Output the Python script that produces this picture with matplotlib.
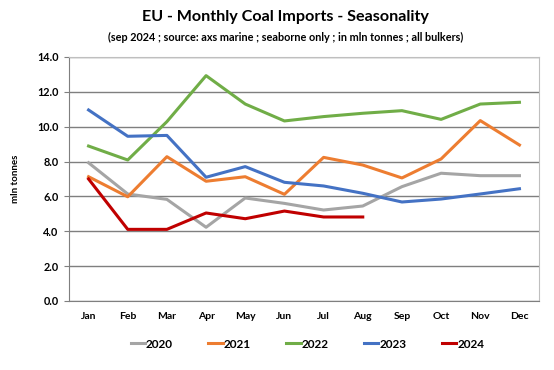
import matplotlib.pyplot as plt

months = ['Jan', 'Feb', 'Mar', 'Apr', 'May', 'Jun', 'Jul', 'Aug', 'Sep', 'Oct', 'Nov', 'Dec']
y2020 = [7.93, 6.14, 5.83, 4.23, 5.91, 5.60, 5.22, 5.45, 6.56, 7.33, 7.19, 7.19]
y2021 = [7.13, 5.98, 8.28, 6.87, 7.13, 6.12, 8.24, 7.80, 7.06, 8.15, 10.35, 8.95]
y2022 = [8.89, 8.09, 10.29, 12.93, 11.30, 10.33, 10.58, 10.77, 10.92, 10.42, 11.30, 11.40]
y2023 = [10.96, 9.45, 9.50, 7.10, 7.71, 6.81, 6.60, 6.18, 5.68, 5.85, 6.14, 6.44]
y2024 = [7.00, 4.11, 4.11, 5.05, 4.72, 5.16, 4.82, 4.82]

plt.rcParams['font.family'] = ['Lato', 'DejaVu Sans']
plt.rcParams['font.weight'] = 'bold'

fig = plt.figure(figsize=(5.54, 3.70), dpi=100)
ax = fig.add_axes([0.1245, 0.1865, 0.8485, 0.6595])

x = range(len(months))
ax.plot(x, y2020, color='#a5a5a5', lw=2.2, label='2020')
ax.plot(x, y2021, color='#ed7d31', lw=2.2, label='2021')
ax.plot(x, y2022, color='#70ad47', lw=2.2, label='2022')
ax.plot(x, y2023, color='#4472c4', lw=2.2, label='2023')
ax.plot(range(len(y2024)), y2024, color='#c00000', lw=2.2, label='2024')

ax.set_xlim(-0.5, 11.5)
ax.set_ylim(0, 14)
ax.set_yticks([0, 2, 4, 6, 8, 10, 12, 14])
ax.set_yticklabels([f'{v:.1f}' for v in [0, 2, 4, 6, 8, 10, 12, 14]])
ax.set_xticks(list(x))
ax.set_xticklabels(months)
ax.grid(axis='y', color='#7f7f7f', lw=1)
ax.set_axisbelow(True)
for s in ['top', 'right']:
    ax.spines[s].set_color('#bfbfbf')
ax.spines['left'].set_color('#7f7f7f')
ax.spines['bottom'].set_color('#7f7f7f')
ax.tick_params(axis='x', length=0, labelsize=7.5, pad=8)
ax.tick_params(axis='y', length=3.5, color='#7f7f7f', labelsize=7.8, pad=4)
ax.set_ylabel('mln tonnes', fontsize=7, fontweight='bold', labelpad=12)

fig.text(0.515, 0.955, 'EU - Monthly Coal Imports - Seasonality', ha='center', va='center',
         fontsize=11.6, fontweight='bold')
fig.text(0.516, 0.9, '(sep 2024 ; source: axs marine ; seaborne only ; in mln tonnes ; all bulkers)',
         ha='center', va='center', fontsize=7.8, fontweight='bold')

fig.legend(loc='center', bbox_to_anchor=(0.555, 0.07), ncol=5, frameon=False,
           fontsize=8.5, handlelength=1.2, handletextpad=0.1, columnspacing=3.0)

fig.savefig('out.png', dpi=100)
